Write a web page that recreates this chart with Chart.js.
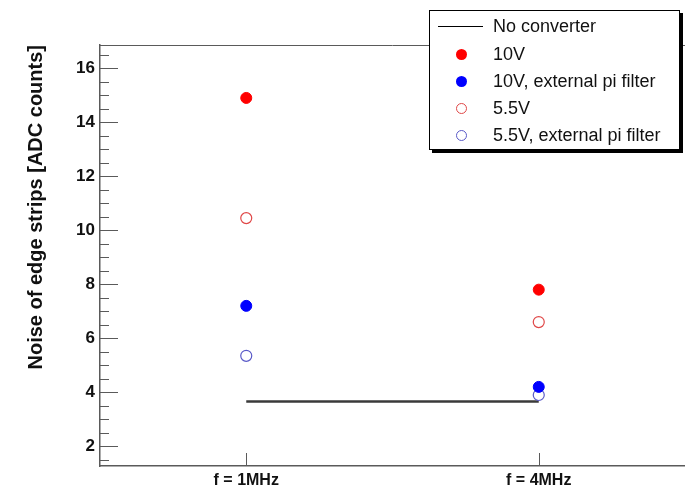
<!DOCTYPE html>
<html>
<head>
<meta charset="utf-8">
<script src="https://cdn.jsdelivr.net/npm/chart.js@4/dist/chart.umd.min.js"></script>
<style>
  html, body { margin: 0; padding: 0; background: #fff; overflow: hidden; }
  #wrap { position: relative; width: 685px; height: 486px; }
  #legend {
    position: absolute; left: 429px; top: 10px; width: 249px; height: 138px;
    border: 1.5px solid #000; box-shadow: 3px 3px 0 #000; background: #fff;
    font-family: "Liberation Sans", Arial, sans-serif; font-size: 18px; color: #111;
  }
  .row { position: absolute; left: 0; width: 100%; height: 24px; }
  .row .txt { position: absolute; left: 63px; top: 50%; transform: translateY(-50%); white-space: nowrap; }
  .row .sym { position: absolute; top: 50%; }
</style>
</head>
<body>
<div id="wrap">
  <canvas id="c" width="685" height="486"></canvas>
  <div id="legend"></div>
</div>
<script>
// ---- data ----
const categories = ['f = 1MHz', 'f = 4MHz'];
const noConverter = [3.66, 3.66];
const v10 = [14.9, 7.8];
const v10Pi = [7.2, 4.2];
const v55 = [10.45, 6.6];
const v55Pi = [5.35, 3.9];
const yTickValues = [2, 4, 6, 8, 10, 12, 14, 16];
const yTitle = 'Noise of edge strips [ADC counts]';
const seriesLabels = ['No converter', '10V', '10V, external pi filter', '5.5V', '5.5V, external pi filter'];

// ---- styles ----
const FONT = "'Liberation Sans', Arial, sans-serif";
const styles = [
  { kind: 'line', color: '#3a3a3a' },
  { kind: 'filled', color: '#ff0000' },
  { kind: 'filled', color: '#0000ff' },
  { kind: 'open', color: '#e04848' },
  { kind: 'open', color: '#5a5ac8' }
];
const seriesData = [noConverter, v10, v10Pi, v55, v55Pi];

const datasets = seriesData.map((d, i) => {
  const s = styles[i];
  if (s.kind === 'line') {
    return { label: seriesLabels[i], data: d, borderColor: s.color, borderWidth: 2.5,
             pointRadius: 0, showLine: true, order: 10 };
  }
  return { label: seriesLabels[i], data: d, showLine: false,
           pointStyle: 'circle', pointRadius: 5.5, pointHoverRadius: 5.5,
           pointBackgroundColor: s.kind === 'filled' ? s.color : 'rgba(0,0,0,0)',
           pointBorderColor: s.color, pointBorderWidth: s.kind === 'filled' ? 1 : 1.2,
           backgroundColor: s.color, borderColor: s.color, order: i };
});

const axisColor = '#5a5a5a';

const tickPlugin = {
  id: 'rootTicks',
  beforeDatasetsDraw(chart) {
    const { ctx, chartArea: a, scales: { x, y } } = chart;
    ctx.save();
    ctx.strokeStyle = axisColor;
    ctx.lineWidth = 1;
    // top frame line
    ctx.beginPath();
    ctx.moveTo(a.left, a.top + 0.5);
    ctx.lineTo(a.right, a.top + 0.5);
    ctx.stroke();
    // y ticks (major every 2, minor every 0.5)
    for (let k = Math.ceil(y.min * 2); k <= Math.floor(y.max * 2); k++) {
      const v = k / 2;
      const py = Math.round(y.getPixelForValue(v)) + 0.5;
      const len = (k % 4 === 0) ? 18 : 9;
      ctx.beginPath();
      ctx.moveTo(a.left, py);
      ctx.lineTo(a.left + len, py);
      ctx.stroke();
    }
    // x ticks
    categories.forEach((c, i) => {
      const px = Math.round(x.getPixelForValue(i)) + 0.5;
      ctx.beginPath();
      ctx.moveTo(px, a.bottom);
      ctx.lineTo(px, a.bottom - 13);
      ctx.stroke();
    });
    ctx.restore();
  }
};

new Chart(document.getElementById('c'), {
  type: 'line',
  data: { labels: categories, datasets },
  options: {
    responsive: false,
    animation: false,
    events: [],
    layout: { autoPadding: false, padding: { top: 45, left: 0, right: 0, bottom: 0 } },
    plugins: { legend: { display: false }, tooltip: { enabled: false } },
    scales: {
      x: {
        type: 'category',
        offset: true,
        grid: { display: false, drawTicks: false },
        border: { display: true, color: axisColor, width: 1.5 },
        ticks: { font: { family: FONT, size: 16, weight: 'bold' }, color: '#111', padding: 5, maxRotation: 0 },
        afterFit(s) { s.height = 20; }
      },
      y: {
        min: 1.27,
        max: 16.86,
        grid: { display: false, drawTicks: false },
        border: { display: true, color: axisColor, width: 1.5 },
        afterBuildTicks(s) { s.ticks = yTickValues.map(v => ({ value: v })); },
        ticks: { font: { family: FONT, size: 17, weight: 'bold' }, color: '#111', padding: 5 },
        title: { display: true, text: yTitle, align: 'end', color: '#111',
                 font: { family: FONT, size: 20, weight: 'bold' }, padding: { top: 24, bottom: 0 } },
        afterFit(s) { s.width = 100; }
      }
    }
  },
  plugins: [tickPlugin]
});

// ---- HTML legend built from the series ----
const legend = document.getElementById('legend');
const rowCenters = [15, 43, 70, 97, 124];
seriesLabels.forEach((lab, i) => {
  const s = styles[i];
  const row = document.createElement('div');
  row.className = 'row';
  row.style.top = (rowCenters[i] - 12) + 'px';
  const sym = document.createElement('div');
  sym.className = 'sym';
  if (s.kind === 'line') {
    sym.style.left = '8px'; sym.style.width = '45px'; sym.style.height = '0';
    sym.style.borderTop = '1px solid #000';
  } else {
    sym.style.left = '26px'; sym.style.width = '11px'; sym.style.height = '11px';
    sym.style.marginTop = '-5.5px'; sym.style.borderRadius = '50%';
    sym.style.boxSizing = 'border-box';
    if (s.kind === 'filled') { sym.style.background = s.color; }
    else { sym.style.border = '1px solid ' + s.color; }
  }
  const txt = document.createElement('div');
  txt.className = 'txt';
  txt.textContent = lab;
  row.appendChild(sym);
  row.appendChild(txt);
  legend.appendChild(row);
});
</script>
</body>
</html>
